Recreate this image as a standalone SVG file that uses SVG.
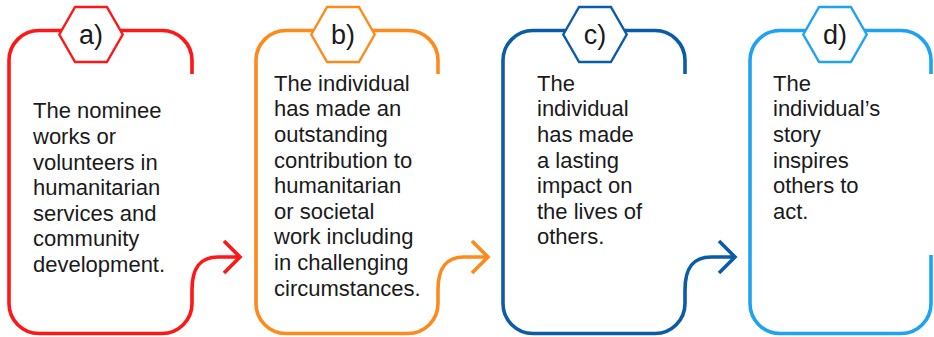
<svg xmlns="http://www.w3.org/2000/svg" width="934" height="337" viewBox="0 0 934 337">
<style>
.ln{fill:none;stroke-width:3.6;stroke-linejoin:miter;stroke-linecap:butt}
.hx{fill:#fff;stroke-width:2.4}
.txt{font-family:"Liberation Sans",Arial,sans-serif;font-size:22px;fill:#1a1a1a}
.lbl{font-family:"Liberation Sans",Arial,sans-serif;font-size:27px;fill:#1a1a1a;text-anchor:middle}
.ra{stroke:#ff1616}.oa{stroke:#ff8a1c}.da{stroke:#0a5ca8}.la{stroke:#1ea2f2}
</style>
<rect width="934" height="337" fill="#fff"/>
<g id="connectors">
<path class="ln ra" d="M192,300 V290 C192,268 200,257 218,257 H240 M224,241 L240,257 L224,273"/>
<path class="ln oa" d="M438,300 V290 C438,268 446,257 464,257 H488 M472,241 L488,257 L472,273"/>
<path class="ln da" d="M685,300 V290 C685,268 693,257 711,257 H735 M719,241 L735,257 L719,273"/>
</g>
<g id="node-a">
<path class="ln ra" d="M192,74 V60 A30,30 0 0 0 162,30.5 H39 A30,30 0 0 0 9,60 V303.5 A30,30 0 0 0 39,333.5 H162 A30,30 0 0 0 192,303.5 V300"/>
<polygon class="hx ra" points="59.3,34.5 75.1,7 106.9,7 122.7,34.5 106.9,62 75.1,62"/>
<text class="lbl" x="91" y="44">a)</text>
<text class="txt" x="33" y="118.3"><tspan x="33">The nominee</tspan><tspan x="33" dy="25.6">works or</tspan><tspan x="33" dy="25.6">volunteers in</tspan><tspan x="33" dy="25.6">humanitarian</tspan><tspan x="33" dy="25.6">services and</tspan><tspan x="33" dy="25.6">community</tspan><tspan x="33" dy="25.6">development.</tspan></text>
</g>
<g id="node-b">
<path class="ln oa" d="M438,74 V60 A30,30 0 0 0 408,30.5 H286 A30,30 0 0 0 256,60 V303.5 A30,30 0 0 0 286,333.5 H408 A30,30 0 0 0 438,303.5 V300"/>
<polygon class="hx oa" points="311.3,34.5 327.1,7 358.9,7 374.7,34.5 358.9,62 327.1,62"/>
<text class="lbl" x="343" y="44">b)</text>
<text class="txt" x="274" y="90.7"><tspan x="274">The individual</tspan><tspan x="274" dy="25.6">has made an</tspan><tspan x="274" dy="25.6">outstanding</tspan><tspan x="274" dy="25.6">contribution to</tspan><tspan x="274" dy="25.6">humanitarian</tspan><tspan x="274" dy="25.6">or societal</tspan><tspan x="274" dy="25.6">work including</tspan><tspan x="274" dy="25.6">in challenging</tspan><tspan x="274" dy="25.6">circumstances.</tspan></text>
</g>
<g id="node-c">
<path class="ln da" d="M685,74 V60 A30,30 0 0 0 655,30.5 H533 A30,30 0 0 0 503,60 V303.5 A30,30 0 0 0 533,333.5 H655 A30,30 0 0 0 685,303.5 V300"/>
<polygon class="hx da" points="563.3,34.5 579.1,7 610.9,7 626.7,34.5 610.9,62 579.1,62"/>
<text class="lbl" x="595" y="44">c)</text>
<text class="txt" x="537" y="90.7"><tspan x="537">The</tspan><tspan x="537" dy="25.6">individual</tspan><tspan x="537" dy="25.6">has made</tspan><tspan x="537" dy="25.6">a lasting</tspan><tspan x="537" dy="25.6">impact on</tspan><tspan x="537" dy="25.6">the lives of</tspan><tspan x="537" dy="25.6">others.</tspan></text>
</g>
<g id="node-d">
<path class="ln la" d="M931,74 V60 A30,30 0 0 0 901,30.5 H780 A30,30 0 0 0 750,60 V303.5 A30,30 0 0 0 780,333.5 H901 A30,30 0 0 0 931,303.5 V255"/>
<polygon class="hx la" points="803.3,34.5 819.1,7 850.9,7 866.7,34.5 850.9,62 819.1,62"/>
<text class="lbl" x="835" y="44">d)</text>
<text class="txt" x="773" y="90.7"><tspan x="773">The</tspan><tspan x="773" dy="25.6">individual’s</tspan><tspan x="773" dy="25.6">story</tspan><tspan x="773" dy="25.6">inspires</tspan><tspan x="773" dy="25.6">others to</tspan><tspan x="773" dy="25.6">act.</tspan></text>
</g>
</svg>
